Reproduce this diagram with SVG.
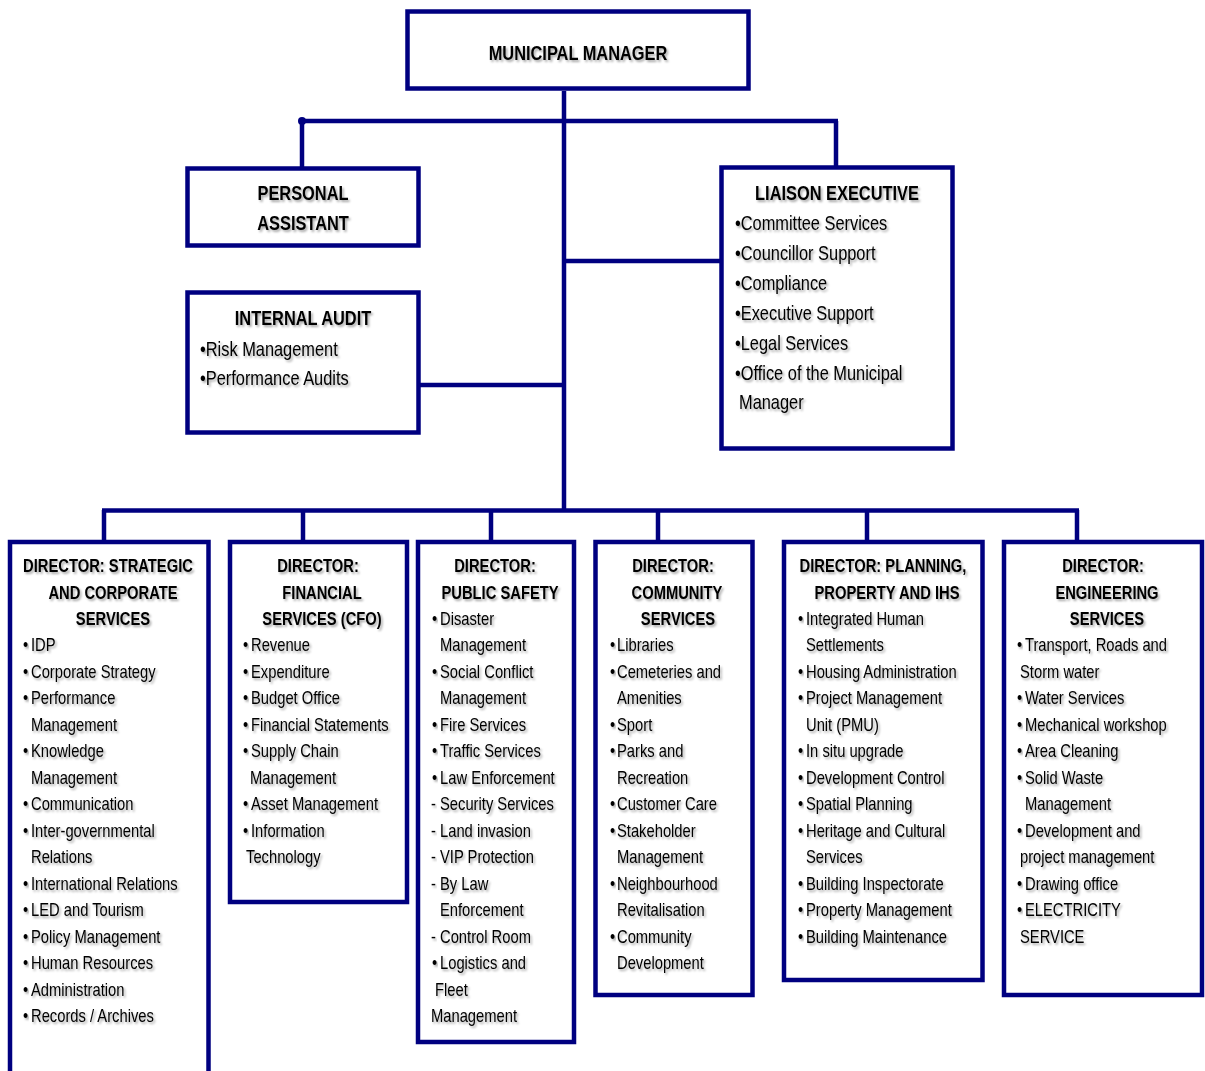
<svg xmlns="http://www.w3.org/2000/svg" width="1205" height="1071" viewBox="0 0 1205 1071">
<defs>
<filter id="sh" x="-5%" y="-20%" width="115%" height="150%">
<feDropShadow dx="2" dy="2" stdDeviation="1.2" flood-color="#000" flood-opacity="0.35"/>
</filter>
<style>
.box{fill:#fff;stroke:#000080;stroke-width:4.5}
.ln{stroke:#000080;stroke-width:4.5;fill:none}
text{font-family:"Liberation Sans Narrow","Liberation Sans",Arial,sans-serif;fill:#000;filter:url(#sh)}
.t{font-weight:bold;font-size:20px;text-anchor:middle}
.b{font-size:20px}
.h{font-weight:bold;font-size:18px;text-anchor:middle}
.i{font-size:18px}
</style>
</defs>
<rect width="1205" height="1071" fill="#fff"/>
<g id="connectors">
<line class="ln" x1="564" y1="91" x2="564" y2="512"/>
<line class="ln" x1="302" y1="121" x2="838" y2="121"/>
<circle cx="302" cy="121" r="4" fill="#000080"/>
<line class="ln" x1="302" y1="121" x2="302" y2="167"/>
<line class="ln" x1="836" y1="121" x2="836" y2="167"/>
<line class="ln" x1="564" y1="261" x2="721" y2="261"/>
<line class="ln" x1="419" y1="385" x2="564" y2="385"/>
<line class="ln" x1="102" y1="510.5" x2="1079" y2="510.5"/>
<line class="ln" x1="104" y1="510" x2="104" y2="542"/>
<line class="ln" x1="303" y1="510" x2="303" y2="542"/>
<line class="ln" x1="491" y1="510" x2="491" y2="542"/>
<line class="ln" x1="658" y1="510" x2="658" y2="542"/>
<line class="ln" x1="867" y1="510" x2="867" y2="542"/>
<line class="ln" x1="1077" y1="510" x2="1077" y2="542"/>
</g>
<g id="municipal-manager">
<rect class="box" x="407.5" y="11.5" width="341" height="77"/>
<text class="t" transform="translate(578,60) scale(0.82,1)">MUNICIPAL MANAGER</text>
</g>
<g id="personal-assistant">
<rect class="box" x="187.5" y="168.5" width="231" height="77"/>
<text class="t" transform="translate(303,200) scale(0.82,1)">PERSONAL</text>
<text class="t" transform="translate(303,230) scale(0.82,1)">ASSISTANT</text>
</g>
<g id="internal-audit">
<rect class="box" x="187.5" y="292.5" width="231" height="140"/>
<text class="t" transform="translate(303,325) scale(0.82,1)">INTERNAL AUDIT</text>
<g class="b" transform="translate(200,0) scale(0.82,1)">
<text x="0" y="356">•Risk Management</text>
<text x="0" y="385">•Performance Audits</text>
</g>
</g>
<g id="liaison-executive">
<rect class="box" x="721.5" y="167.5" width="231" height="281"/>
<text class="t" transform="translate(837,200) scale(0.82,1)">LIAISON EXECUTIVE</text>
<g class="b" transform="translate(735,0) scale(0.82,1)">
<text x="0" y="230">•Committee Services</text>
<text x="0" y="260">•Councillor Support</text>
<text x="0" y="290">•Compliance</text>
<text x="0" y="320">•Executive Support</text>
<text x="0" y="350">•Legal Services</text>
<text x="0" y="380">•Office of the Municipal</text>
<text x="4.9" y="409">Manager</text>
</g>
</g>
<g id="director-strategic">
<rect class="box" x="10" y="542" width="198.5" height="533"/>
<text class="h" transform="translate(108,572) scale(0.82,1)">DIRECTOR: STRATEGIC</text>
<text class="h" transform="translate(113,598.5) scale(0.82,1)">AND CORPORATE</text>
<text class="h" transform="translate(113,625) scale(0.82,1)">SERVICES</text>
<g class="i" transform="translate(31,0) scale(0.82,1)">
<text x="-9.8" y="651.5">•</text><text x="0" y="651.5">IDP</text>
<text x="-9.8" y="678">•</text><text x="0" y="678">Corporate Strategy</text>
<text x="-9.8" y="704.5">•</text><text x="0" y="704.5">Performance</text>
<text x="0" y="731">Management</text>
<text x="-9.8" y="757.5">•</text><text x="0" y="757.5">Knowledge</text>
<text x="0" y="784">Management</text>
<text x="-9.8" y="810.5">•</text><text x="0" y="810.5">Communication</text>
<text x="-9.8" y="837">•</text><text x="0" y="837">Inter-governmental</text>
<text x="0" y="863.5">Relations</text>
<text x="-9.8" y="890">•</text><text x="0" y="890">International Relations</text>
<text x="-9.8" y="916.5">•</text><text x="0" y="916.5">LED and Tourism</text>
<text x="-9.8" y="943">•</text><text x="0" y="943">Policy Management</text>
<text x="-9.8" y="969.5">•</text><text x="0" y="969.5">Human Resources</text>
<text x="-9.8" y="996">•</text><text x="0" y="996">Administration</text>
<text x="-9.8" y="1022.5">•</text><text x="0" y="1022.5">Records / Archives</text>
</g>
</g>
<g id="director-financial">
<rect class="box" x="230" y="542" width="177" height="360"/>
<text class="h" transform="translate(318,572) scale(0.82,1)">DIRECTOR:</text>
<text class="h" transform="translate(322,598.5) scale(0.82,1)">FINANCIAL</text>
<text class="h" transform="translate(322,625) scale(0.82,1)">SERVICES (CFO)</text>
<g class="i" transform="translate(251,0) scale(0.82,1)">
<text x="-9.8" y="651.5">•</text><text x="0" y="651.5">Revenue</text>
<text x="-9.8" y="678">•</text><text x="0" y="678">Expenditure</text>
<text x="-9.8" y="704.5">•</text><text x="0" y="704.5">Budget Office</text>
<text x="-9.8" y="731">•</text><text x="0" y="731">Financial Statements</text>
<text x="-9.8" y="757.5">•</text><text x="0" y="757.5">Supply Chain</text>
<text x="-1.2" y="784">Management</text>
<text x="-9.8" y="810.5">•</text><text x="0" y="810.5">Asset Management</text>
<text x="-9.8" y="837">•</text><text x="0" y="837">Information</text>
<text x="-6.1" y="863.5">Technology</text>
</g>
</g>
<g id="director-public-safety">
<rect class="box" x="418" y="542" width="156" height="500"/>
<text class="h" transform="translate(495,572) scale(0.82,1)">DIRECTOR:</text>
<text class="h" transform="translate(500,598.5) scale(0.82,1)">PUBLIC SAFETY</text>
<g class="i" transform="translate(440,0) scale(0.82,1)">
<text x="-9.8" y="625">•</text><text x="0" y="625">Disaster</text>
<text x="0" y="651.5">Management</text>
<text x="-9.8" y="678">•</text><text x="0" y="678">Social Conflict</text>
<text x="0" y="704.5">Management</text>
<text x="-9.8" y="731">•</text><text x="0" y="731">Fire Services</text>
<text x="-9.8" y="757.5">•</text><text x="0" y="757.5">Traffic Services</text>
<text x="-9.8" y="784">•</text><text x="0" y="784">Law Enforcement</text>
<text x="-11" y="810.5">-</text><text x="0" y="810.5">Security Services</text>
<text x="-11" y="837">-</text><text x="0" y="837">Land invasion</text>
<text x="-11" y="863.5">-</text><text x="0" y="863.5">VIP Protection</text>
<text x="-11" y="890">-</text><text x="0" y="890">By Law</text>
<text x="0" y="916.5">Enforcement</text>
<text x="-11" y="943">-</text><text x="0" y="943">Control Room</text>
<text x="-9.8" y="969.5">•</text><text x="0" y="969.5">Logistics and</text>
<text x="-6.1" y="996">Fleet</text>
<text x="-11" y="1022.5">Management</text>
</g>
</g>
<g id="director-community">
<rect class="box" x="595.5" y="542" width="157" height="453"/>
<text class="h" transform="translate(673,572) scale(0.82,1)">DIRECTOR:</text>
<text class="h" transform="translate(677,598.5) scale(0.82,1)">COMMUNITY</text>
<text class="h" transform="translate(678,625) scale(0.82,1)">SERVICES</text>
<g class="i" transform="translate(617,0) scale(0.82,1)">
<text x="-8.5" y="651.5">•</text><text x="0" y="651.5">Libraries</text>
<text x="-8.5" y="678">•</text><text x="0" y="678">Cemeteries and</text>
<text x="0" y="704.5">Amenities</text>
<text x="-8.5" y="731">•</text><text x="0" y="731">Sport</text>
<text x="-8.5" y="757.5">•</text><text x="0" y="757.5">Parks and</text>
<text x="0" y="784">Recreation</text>
<text x="-8.5" y="810.5">•</text><text x="0" y="810.5">Customer Care</text>
<text x="-8.5" y="837">•</text><text x="0" y="837">Stakeholder</text>
<text x="0" y="863.5">Management</text>
<text x="-8.5" y="890">•</text><text x="0" y="890">Neighbourhood</text>
<text x="0" y="916.5">Revitalisation</text>
<text x="-8.5" y="943">•</text><text x="0" y="943">Community</text>
<text x="0" y="969.5">Development</text>
</g>
</g>
<g id="director-planning">
<rect class="box" x="784" y="542" width="198.5" height="438"/>
<text class="h" transform="translate(883,572) scale(0.82,1)">DIRECTOR: PLANNING,</text>
<text class="h" transform="translate(887,598.5) scale(0.82,1)">PROPERTY AND IHS</text>
<g class="i" transform="translate(806,0) scale(0.82,1)">
<text x="-9.8" y="625">•</text><text x="0" y="625">Integrated Human</text>
<text x="0" y="651.5">Settlements</text>
<text x="-9.8" y="678">•</text><text x="0" y="678">Housing Administration</text>
<text x="-9.8" y="704.5">•</text><text x="0" y="704.5">Project Management</text>
<text x="0" y="731">Unit (PMU)</text>
<text x="-9.8" y="757.5">•</text><text x="0" y="757.5">In situ upgrade</text>
<text x="-9.8" y="784">•</text><text x="0" y="784">Development Control</text>
<text x="-9.8" y="810.5">•</text><text x="0" y="810.5">Spatial Planning</text>
<text x="-9.8" y="837">•</text><text x="0" y="837">Heritage and Cultural</text>
<text x="0" y="863.5">Services</text>
<text x="-9.8" y="890">•</text><text x="0" y="890">Building Inspectorate</text>
<text x="-9.8" y="916.5">•</text><text x="0" y="916.5">Property Management</text>
<text x="-9.8" y="943">•</text><text x="0" y="943">Building Maintenance</text>
</g>
</g>
<g id="director-engineering">
<rect class="box" x="1004" y="542" width="198" height="453"/>
<text class="h" transform="translate(1103,572) scale(0.82,1)">DIRECTOR:</text>
<text class="h" transform="translate(1107,598.5) scale(0.82,1)">ENGINEERING</text>
<text class="h" transform="translate(1107,625) scale(0.82,1)">SERVICES</text>
<g class="i" transform="translate(1025,0) scale(0.82,1)">
<text x="-9.8" y="651.5">•</text><text x="0" y="651.5">Transport, Roads and</text>
<text x="-6.1" y="678">Storm water</text>
<text x="-9.8" y="704.5">•</text><text x="0" y="704.5">Water Services</text>
<text x="-9.8" y="731">•</text><text x="0" y="731">Mechanical workshop</text>
<text x="-9.8" y="757.5">•</text><text x="0" y="757.5">Area Cleaning</text>
<text x="-9.8" y="784">•</text><text x="0" y="784">Solid Waste</text>
<text x="0" y="810.5">Management</text>
<text x="-9.8" y="837">•</text><text x="0" y="837">Development and</text>
<text x="-6.1" y="863.5">project management</text>
<text x="-9.8" y="890">•</text><text x="0" y="890">Drawing office</text>
<text x="-9.8" y="916.5">•</text><text x="0" y="916.5">ELECTRICITY</text>
<text x="-6.1" y="943">SERVICE</text>
</g>
</g>
</svg>
